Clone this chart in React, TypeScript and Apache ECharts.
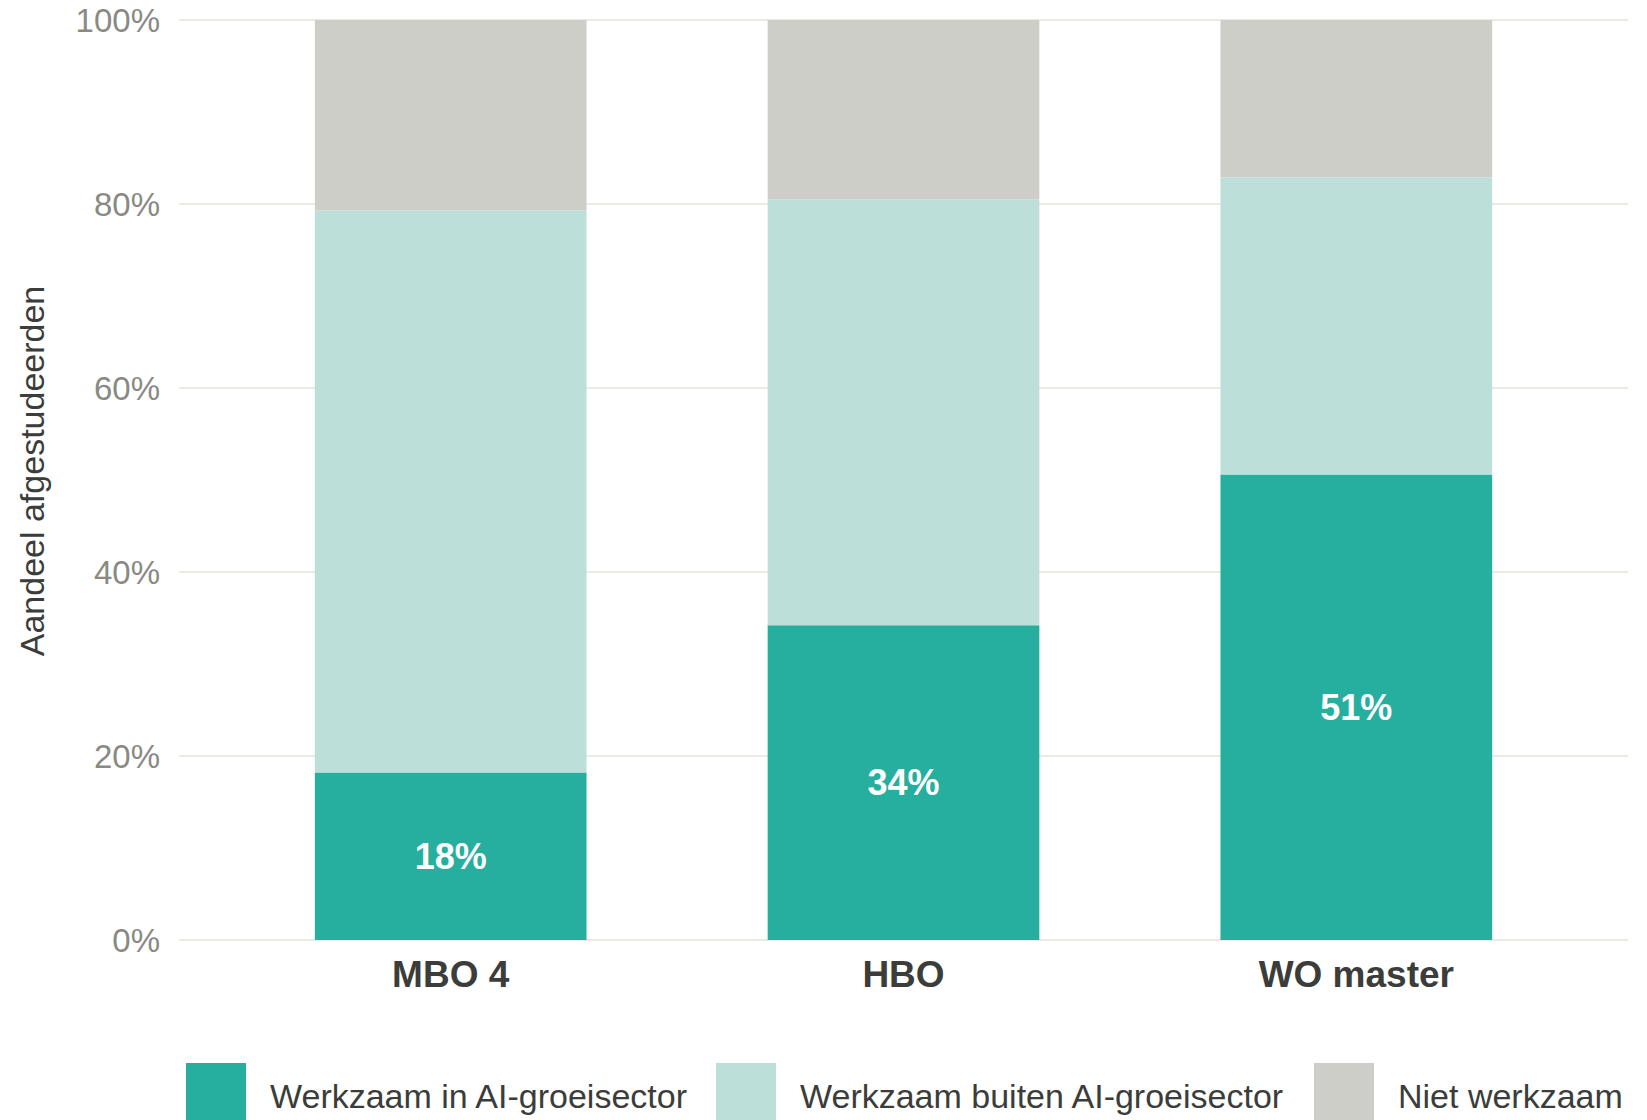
import React, { useEffect, useRef } from "react";
import * as echarts from "echarts";

const categories = ["MBO 4", "HBO", "WO master"];
const seriesNames = [
  "Werkzaam in AI-groeisector",
  "Werkzaam buiten AI-groeisector",
  "Niet werkzaam",
];
const inAI = [18.2, 34.2, 50.6];
const outsideAI = [61.1, 46.3, 32.3];
const notWorking = [20.7, 19.5, 17.1];

const FONT = "'Liberation Sans', Arial, Helvetica, sans-serif";
const COLORS = ["#26AE9F", "#BCE0D9", "#CDCEC8"];
const DARK = "#3b3d3a";
const GREY = "#8a8a85";

export default function App() {
  const ref = useRef<HTMLDivElement>(null);

  useEffect(() => {
    if (!ref.current) return;
    const chart = echarts.init(ref.current, undefined, { renderer: "svg" });

    const W = 1647;
    const gridLeft = 179;
    const gridRight = 19;
    const gridW = W - gridLeft - gridRight;
    const unit = gridW / 3.2;
    const barLeft = gridLeft + 0.1 * unit;
    const barRight = W - (barLeft + 3 * unit);

    const legendLefts = [181, 711, 1309];

    const option: any = {
      animation: false,
      backgroundColor: "#ffffff",
      textStyle: { fontFamily: FONT },
      grid: [
        { left: gridLeft, right: gridRight, top: 20, bottom: 180 },
        { left: barLeft, right: barRight, top: 20, bottom: 180 },
      ],
      legend: seriesNames.map((n, i) => ({
        data: [n],
        left: legendLefts[i],
        top: 1058,
        itemWidth: 60,
        itemHeight: 66,
        icon: "rect",
        selectedMode: false,
        textStyle: {
          fontFamily: FONT,
          fontSize: 34,
          color: DARK,
          padding: [0, 0, 0, 19],
        },
      })),
      xAxis: [
        {
          gridIndex: 0,
          type: "value",
          min: 0,
          max: 1,
          show: false,
        },
        {
          gridIndex: 1,
          type: "category",
          data: categories,
          axisLine: { show: false },
          axisTick: { show: false },
          axisLabel: {
            fontFamily: FONT,
            fontSize: 37,
            fontWeight: "bold",
            color: DARK,
            margin: 16,
          },
        },
      ],
      yAxis: [
        {
          gridIndex: 0,
          type: "value",
          min: 0,
          max: 100,
          interval: 20,
          name: "Aandeel afgestudeerden",
          nameLocation: "middle",
          nameGap: 130,
          nameTextStyle: {
            fontFamily: FONT,
            fontSize: 34,
            color: DARK,
            padding: [0, 0, 0, 18],
          },
          axisLine: { show: false },
          axisTick: { show: false },
          axisLabel: {
            formatter: "{value}%",
            fontFamily: FONT,
            fontSize: 33,
            color: GREY,
            margin: 19,
          },
          splitLine: { lineStyle: { color: "#EBEBE6", width: 2 } },
        },
        {
          gridIndex: 1,
          type: "value",
          min: 0,
          max: 100,
          show: false,
          splitLine: { show: false },
        },
      ],
      series: [
        {
          name: seriesNames[0],
          type: "bar",
          stack: "total",
          xAxisIndex: 1,
          yAxisIndex: 1,
          data: inAI,
          barWidth: "60%",
          itemStyle: { color: COLORS[0] },
          label: {
            show: true,
            position: "inside",
            formatter: (p: any) => Math.round(p.value) + "%",
            fontFamily: FONT,
            fontSize: 36,
            fontWeight: "bold",
            color: "#ffffff",
          },
        },
        {
          name: seriesNames[1],
          type: "bar",
          stack: "total",
          xAxisIndex: 1,
          yAxisIndex: 1,
          data: outsideAI,
          barWidth: "60%",
          itemStyle: { color: COLORS[1] },
        },
        {
          name: seriesNames[2],
          type: "bar",
          stack: "total",
          xAxisIndex: 1,
          yAxisIndex: 1,
          data: notWorking,
          barWidth: "60%",
          itemStyle: { color: COLORS[2] },
        },
      ],
    };

    chart.setOption(option);
    return () => chart.dispose();
  }, []);

  return (
    <div
      ref={ref}
      style={{ position: "absolute", left: 0, top: 0, width: 1647, height: 1120 }}
    />
  );
}
